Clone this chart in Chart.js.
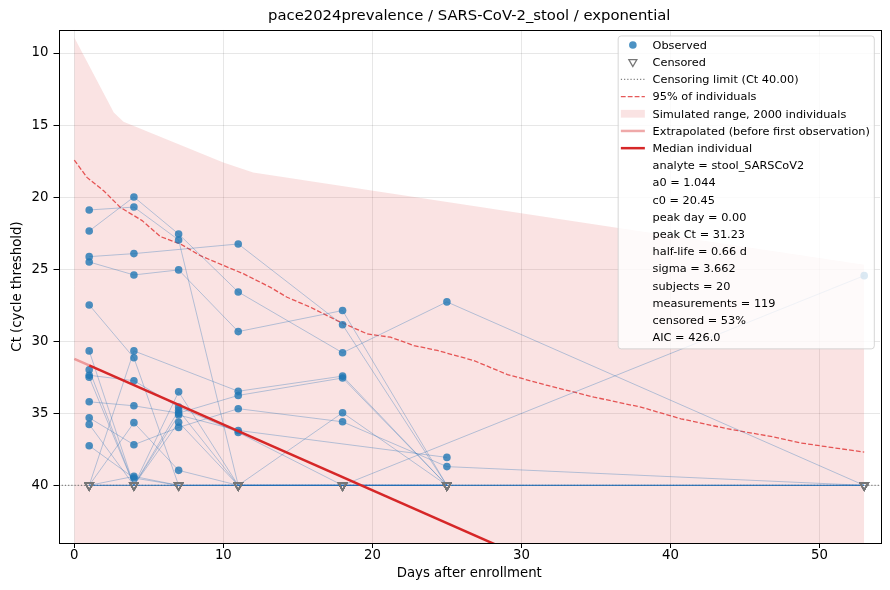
<!DOCTYPE html>
<html><head><meta charset="utf-8">
<script src="https://cdn.jsdelivr.net/npm/chart.js@4.4.1/dist/chart.umd.min.js"></script>
<style>html,body{margin:0;padding:0;background:#fff}#wrap{width:890px;height:590px;position:relative}</style>
</head><body><div id="wrap"><canvas id="c"></canvas></div>
<script>
// ---------- data ----------
const chartTitle = 'pace2024prevalence / SARS-CoV-2_stool / exponential';
const xLabel = 'Days after enrollment';
const yLabel = 'Ct (cycle threshold)';
const xTicks = [0, 10, 20, 30, 40, 50];
const yTicks = [10, 15, 20, 25, 30, 35, 40];
const xLimits = [-1.06, 54.06];
const yLimits = [8.4, 44.0];
const censorCt = 40;
const visitDays = [1, 4, 7, 11, 18, 25, 53];
// per subject Ct at each visit day (40 = censored, null = not measured)
const subjects = [
  [20.89, 20.69, 22.97, 40, 40, 40, 40],
  [22.35, 19.99, 22.56, 26.58, 30.80, 27.27, 40],
  [24.13, 23.92, null, 23.25, 28.86, 40, null],
  [24.50, 25.40, 25.05, 29.33, 27.87, 40, null],
  [27.48, 31.15, 40, 40, 40, 40, null],
  [40, 30.67, null, 33.47, 32.42, 40, 40],
  [30.67, 40, 34.80, 40, 34.96, 40, null],
  [31.98, 40, 35.12, 36.19, null, 38.06, null],
  [32.36, 32.74, 34.57, 36.33, 40, null, null],
  [32.50, 40, 35.62, 40, 40, 40, 40],
  [34.20, 34.48, 34.99, 33.76, 32.55, 40, null],
  [35.31, 37.18, 35.98, 34.68, 35.59, 38.70, 40],
  [35.77, 40, 33.51, 40, 40, 40, null],
  [37.25, 39.49, 40, 40, 40, 40, null],
  [40, 35.65, 38.96, 40, 40, 40, 40],
  [40, 39.38, 40, 40, 40, 40, null],
  [40, 40, 40, null, 40, null, 25.45],
  [40, null, 40, 40, 40, 40, 40],
  [40, null, 40, 40, 40, 40, 40],
  [40, 40, null, null, 40, 40, null]
];
const bandDays = [0, 2.65, 3.3, 10, 12, 36.5, 53];
const bandTop = [8.93, 14.13, 14.77, 17.6, 18.29, 22.14, 24.7];
const p95Days = [0, 0.85, 1.97, 3.09, 4.55, 5.78, 7.12, 8.46, 10.03, 11.37, 13.16, 14.28, 15.85, 17.64, 19.66, 21.22, 22.79, 24.36, 26.8, 29.06, 31.75, 34.88, 38.01, 40.7, 43.8, 46.97, 48.76, 51.4, 53];
const p95Ct = [17.43, 18.63, 19.56, 20.71, 21.63, 22.74, 23.25, 24.06, 24.75, 25.33, 26.26, 26.95, 27.64, 28.57, 29.49, 29.72, 30.30, 30.64, 31.34, 32.31, 33.07, 33.88, 34.57, 35.38, 36.07, 36.65, 37.06, 37.46, 37.69];
const extrapDays = [0, 1];
const extrapCt = [31.23, 31.68];
const medianDays = [1, 30];
const medianCt = [31.68, 44.9];
const legendEntries = [
  {label: 'Observed', kind: 'circle'},
  {label: 'Censored', kind: 'triangle'},
  {label: 'Censoring limit (Ct 40.00)', kind: 'dotted'},
  {label: '95% of individuals', kind: 'dashed'},
  {label: 'Simulated range, 2000 individuals', kind: 'patch'},
  {label: 'Extrapolated (before first observation)', kind: 'extrap'},
  {label: 'Median individual', kind: 'median'},
  {label: 'analyte = stool_SARSCoV2', kind: 'none'},
  {label: 'a0 = 1.044', kind: 'none'},
  {label: 'c0 = 20.45', kind: 'none'},
  {label: 'peak day = 0.00', kind: 'none'},
  {label: 'peak Ct = 31.23', kind: 'none'},
  {label: 'half-life = 0.66 d', kind: 'none'},
  {label: 'sigma = 3.662', kind: 'none'},
  {label: 'subjects = 20', kind: 'none'},
  {label: 'measurements = 119', kind: 'none'},
  {label: 'censored = 53%', kind: 'none'},
  {label: 'AIC = 426.0', kind: 'none'}
];

// ---------- styles ----------
const FONT = '"DejaVu Sans", "Liberation Sans", sans-serif';
const C = {
  obs: 'rgba(31,119,180,0.8)',
  cens: '#777777',
  limit: '#808080',
  p95: 'rgba(226,60,60,0.85)',
  band: 'rgba(214,39,40,0.13)',
  extrap: 'rgba(214,39,40,0.4)',
  median: '#d62728',
  subj: 'rgba(31,110,180,0.32)'
};
const p95Dash = [4.8, 2.1];
const dotDash = [1.2, 2.0];

// ---------- derived ----------
const pts = (xs, ys) => xs.map((x, i) => ({x: x, y: ys[i]}));
const subjectSeries = subjects.map(s => visitDays.map((d, i) => s[i] == null ? null : {x: d, y: s[i]}).filter(Boolean));
const observedPts = [], censoredPts = [];
subjects.forEach(s => s.forEach((v, i) => {
  if (v == null) return;
  (v >= censorCt ? censoredPts : observedPts).push({x: visitDays[i], y: v});
}));

const framePlugin = {
  id: 'frame',
  afterDatasetsDraw(chart) {
    const ctx = chart.ctx, a = chart.chartArea;
    ctx.save();
    ctx.strokeStyle = '#000'; ctx.lineWidth = 1;
    ctx.strokeRect(Math.round(a.left) + 0.5, Math.round(a.top) + 0.5, Math.round(a.right - a.left), Math.round(a.bottom - a.top));
    ctx.restore();
  }
};

const legendPlugin = {
  id: 'mplLegend',
  afterDraw(chart) {
    const ctx = chart.ctx, a = chart.chartArea;
    const fs = 11.3, rowH = 17.2;
    ctx.save();
    ctx.font = fs + 'px ' + FONT;
    let maxW = 0;
    legendEntries.forEach(e => { maxW = Math.max(maxW, ctx.measureText(e.label).width); });
    const right = a.right - 5.7;
    const textX = right - 4.4 - maxW;
    const left = textX - 34.4;
    const top = a.top + 6;
    const firstY = top + 10;
    const bottom = firstY + rowH * (legendEntries.length - 1) + 10.5;
    ctx.beginPath();
    if (ctx.roundRect) ctx.roundRect(left, top, right - left, bottom - top, 3);
    else ctx.rect(left, top, right - left, bottom - top);
    ctx.fillStyle = 'rgba(255,255,255,0.8)';
    ctx.fill();
    ctx.strokeStyle = 'rgba(204,204,204,0.8)';
    ctx.lineWidth = 1;
    ctx.stroke();
    legendEntries.forEach((e, i) => {
      const y = firstY + i * rowH;
      const hx0 = textX - 31.7, hx1 = textX - 7.7, hc = (hx0 + hx1) / 2;
      ctx.save();
      const line = (color, w, dash) => {
        ctx.beginPath(); ctx.setLineDash(dash || []); ctx.strokeStyle = color; ctx.lineWidth = w;
        ctx.moveTo(hx0, y - 1); ctx.lineTo(hx1, y - 1); ctx.stroke();
      };
      if (e.kind === 'circle') {
        ctx.beginPath(); ctx.arc(hc, y - 1, 3.8, 0, Math.PI * 2); ctx.fillStyle = C.obs; ctx.fill();
      } else if (e.kind === 'triangle') {
        ctx.beginPath(); ctx.moveTo(hc, y + 3.4); ctx.lineTo(hc - 4, y - 3.6); ctx.lineTo(hc + 4, y - 3.6); ctx.closePath();
        ctx.strokeStyle = C.cens; ctx.lineWidth = 1.3; ctx.stroke();
      } else if (e.kind === 'dotted') {
        line(C.limit, 1.2, dotDash);
      } else if (e.kind === 'dashed') {
        line(C.p95, 1.3, p95Dash);
      } else if (e.kind === 'patch') {
        ctx.fillStyle = C.band; ctx.fillRect(hx0, y - 4.9, hx1 - hx0, 7.8);
      } else if (e.kind === 'extrap') {
        line(C.extrap, 2.5);
      } else if (e.kind === 'median') {
        line(C.median, 2.5);
      }
      ctx.restore();
      ctx.fillStyle = '#000'; ctx.textBaseline = 'middle'; ctx.textAlign = 'left';
      ctx.fillText(e.label, textX, y);
    });
    ctx.restore();
  }
};

const tickFont = {family: FONT, size: 13.3};
const datasets = [
  {data: pts(bandDays, bandTop), showLine: true, fill: 'start', backgroundColor: C.band, borderWidth: 0, borderColor: 'rgba(0,0,0,0)', pointRadius: 0, order: 9},
  {data: pts(p95Days, p95Ct), showLine: true, fill: false, borderColor: C.p95, borderWidth: 1.3, borderDash: p95Dash, pointRadius: 0, order: 8},
  {data: [{x: xLimits[0], y: censorCt}, {x: xLimits[1], y: censorCt}], showLine: true, fill: false, borderColor: C.limit, borderWidth: 1.2, borderDash: dotDash, pointRadius: 0, order: 7.5}
];
subjectSeries.forEach(s => datasets.push({data: s, showLine: true, fill: false, borderColor: C.subj, borderWidth: 1, pointRadius: 0, order: 7}));
datasets.push(
  {data: censoredPts, pointStyle: 'triangle', rotation: 180, pointRadius: 4.7, backgroundColor: 'rgba(0,0,0,0)', borderColor: C.cens, borderWidth: 1.4, order: 5},
  {data: observedPts, pointStyle: 'circle', pointRadius: 3.8, backgroundColor: C.obs, borderColor: C.obs, borderWidth: 0, order: 4},
  {data: pts(extrapDays, extrapCt), showLine: true, fill: false, borderColor: C.extrap, borderWidth: 2.5, pointRadius: 0, order: 2},
  {data: pts(medianDays, medianCt), showLine: true, fill: false, borderColor: C.median, borderWidth: 2.5, pointRadius: 0, order: 1}
);

new Chart(document.getElementById('c'), {
  type: 'scatter',
  data: {datasets: datasets},
  options: {
    responsive: true, maintainAspectRatio: false, animation: false,
    layout: {padding: {left: 0, right: 10, top: 0, bottom: 0}},
    plugins: {
      legend: {display: false},
      tooltip: {enabled: false},
      title: {display: true, fullSize: false, text: chartTitle, color: '#000', font: {family: FONT, size: 14.8, weight: 'normal'}, padding: {top: 7, bottom: 5.2}}
    },
    scales: {
      x: {
        type: 'linear', min: xLimits[0], max: xLimits[1],
        afterBuildTicks: s => { s.ticks = xTicks.map(v => ({value: v})); },
        afterFit: s => { s.height = 47; },
        grid: {color: 'rgba(0,0,0,0.12)', lineWidth: 0.8, tickColor: '#000', tickLength: 5, tickWidth: 1},
        border: {display: false},
        ticks: {color: '#000', font: tickFont, padding: 0, maxRotation: 0, autoSkip: false},
        title: {display: true, text: xLabel, color: '#000', font: tickFont, padding: {top: 0, bottom: 8}}
      },
      y: {
        type: 'linear', reverse: true, min: yLimits[0], max: yLimits[1],
        afterBuildTicks: s => { s.ticks = yTicks.map(v => ({value: v})); },
        afterFit: s => { s.width = 58.5; },
        grid: {color: 'rgba(0,0,0,0.12)', lineWidth: 0.8, tickColor: '#000', tickLength: 5, tickWidth: 1},
        border: {display: false},
        ticks: {color: '#000', font: tickFont, padding: 5, autoSkip: false},
        title: {display: true, text: yLabel, color: '#000', font: tickFont, padding: {top: 10, bottom: 0}}
      }
    }
  },
  plugins: [framePlugin, legendPlugin]
});
</script>
</body></html>
